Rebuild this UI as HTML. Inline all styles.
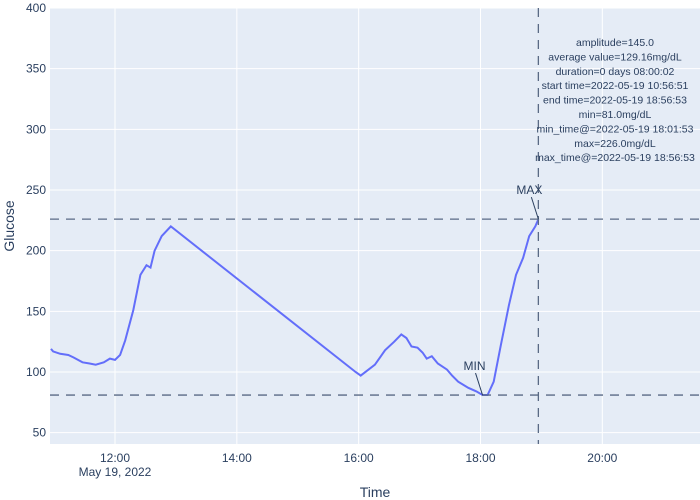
<!DOCTYPE html>
<html><head><meta charset="utf-8"><style>
body{margin:0;background:#fff;}
svg{display:block;font-family:"Liberation Sans",Arial,sans-serif;}
</style></head><body>
<svg id="chart" width="700" height="500">
<rect x="50" y="8" width="650" height="436" fill="#e5ecf6"/>
<g id="grid"></g><g id="ticks"></g>
<path id="line" fill="none" stroke="#636efa" stroke-width="2"/>
<g id="refs"></g><g id="ann"></g>
<text x="375" y="497" text-anchor="middle" font-size="14" fill="#2a3f5f">Time</text>
<text x="14" y="226" text-anchor="middle" font-size="14" fill="#2a3f5f" transform="rotate(-90 14 226)">Glucose</text>
</svg>
<script>
const times=["10:57","10:59","11:06","11:14","11:19","11:28","11:35","11:41","11:49","11:55","12:00","12:05","12:10","12:18","12:25","12:31","12:35","12:39","12:46","12:55","15:57","16:02","16:16","16:26","16:35","16:42","16:47","16:52","16:58","17:03","17:07","17:12","17:18","17:27","17:32","17:38","17:48","17:56","18:02","18:07","18:13","18:20","18:28","18:35","18:42","18:48","18:54","18:57"];
const values=[119,117,115,114,112,108,107,106,108,111,110,114,126,151,180,188,186,200,212,220,100,97,106,118,125,131,128,121,120,116,111,113,107,102,97,92,87,84,81,81,92,122,155,180,194,212,220,226];
const yTicks=[50,100,150,200,250,300,350,400];
const xTicks=["12:00","14:00","16:00","18:00","20:00"];
const minVal=81, maxVal=226, maxTime="18:57";
const annLines=["amplitude=145.0","average value=129.16mg/dL","duration=0 days 08:00:02","start time=2022-05-19 10:56:51","end time=2022-05-19 18:56:53","min=81.0mg/dL","min_time@=2022-05-19 18:01:53","max=226.0mg/dL","max_time@=2022-05-19 18:56:53"];
const NS="http://www.w3.org/2000/svg";
function mins(s){const p=s.split(":");return +p[0]*60+ +p[1];}
function X(s){return 115+(mins(s)-720)*121.83/120;}
function Y(v){return 8+(400-v)*1.2133;}
function mk(tag,attrs,parent,txt){const e=document.createElementNS(NS,tag);for(const k in attrs)e.setAttribute(k,attrs[k]);if(txt!==undefined)e.textContent=txt;document.getElementById(parent).appendChild(e);return e;}
yTicks.forEach(v=>{
 const g=mk("line",{x1:50,x2:700,y1:Y(v),y2:Y(v),stroke:"#fff","stroke-width":1},"grid");
 
 
 const t=mk("text",{x:46,y:Y(v)+4,"text-anchor":"end","font-size":12,fill:"#2a3f5f"},"ticks",v);
 
 
});
xTicks.forEach((s,i)=>{
 const g=mk("line",{x1:X(s),x2:X(s),y1:8,y2:444,stroke:"#fff","stroke-width":1},"grid");
 
 
 const t=mk("text",{x:X(s),y:462,"text-anchor":"middle","font-size":12,fill:"#2a3f5f"},"ticks",s);
 
 
 if(i===0){const d=mk("text",{x:X(s),y:476,"text-anchor":"middle","font-size":12,fill:"#2a3f5f"},"ticks","May 19, 2022");
 
 }
});
document.getElementById("line").setAttribute("d",times.map((t,i)=>(i?"L":"M")+X(t).toFixed(1)+","+Y(values[i]).toFixed(1)).join(""));
[minVal,maxVal].forEach(v=>{
 const l=mk("line",{x1:50,x2:700,y1:Y(v),y2:Y(v),stroke:"#5a6a85","stroke-width":1.3,"stroke-dasharray":"9,7"},"refs");
 
 
});
const vl=mk("line",{x1:X(maxTime),x2:X(maxTime),y1:8,y2:444,stroke:"#5a6a85","stroke-width":1.3,"stroke-dasharray":"9,7"},"refs");


const mnx=X("18:02"), mxx=X(maxTime);
const a1=mk("line",{x1:mnx-7,y1:Y(minVal)-22,x2:mnx,y2:Y(minVal),stroke:"#2a3f5f","stroke-width":1},"ann");


const t1=mk("text",{x:mnx-8,y:Y(minVal)-25,"text-anchor":"middle","font-size":12,fill:"#2a3f5f"},"ann","MIN");


const a2=mk("line",{x1:mxx-7,y1:Y(maxVal)-22,x2:mxx,y2:Y(maxVal),stroke:"#2a3f5f","stroke-width":1},"ann");


const t2=mk("text",{x:mxx-9,y:Y(maxVal)-25,"text-anchor":"middle","font-size":12,fill:"#2a3f5f"},"ann","MAX");


annLines.forEach((s,i)=>{
 const t=mk("text",{x:615,y:46+i*14.4,"text-anchor":"middle","font-size":10.5,fill:"#2a3f5f"},"ann",s);
 
 
});
</script>
</body></html>
